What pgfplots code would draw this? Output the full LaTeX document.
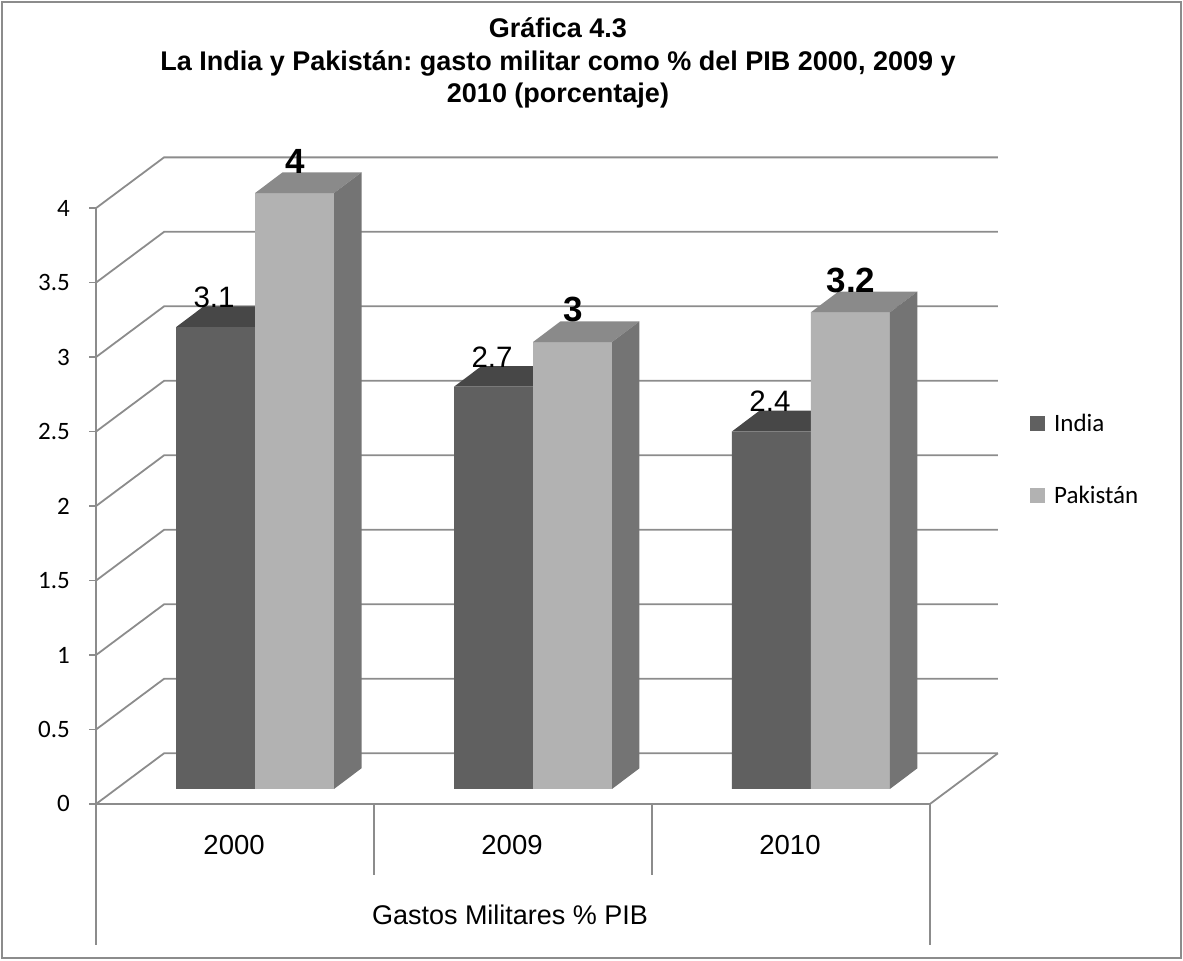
\documentclass[border=0pt]{standalone}
\usepackage{pgfplots}
\pgfplotsset{compat=1.18}
\usepackage{pgfplotstable}
\usepackage{fontspec}
\setmainfont{Liberation Sans}
\newfontfamily\carlito{Carlito}
\frenchspacing

\definecolor{indiaF}{RGB}{96,96,96}
\definecolor{indiaT}{RGB}{71,71,71}
\definecolor{pakF}{RGB}{178,178,178}
\definecolor{pakT}{RGB}{138,138,138}
\definecolor{pakS}{RGB}{116,116,116}
\definecolor{gridc}{RGB}{140,140,140}
\definecolor{framec}{RGB}{140,140,140}

\pgfplotstableread{
x india pak
255 3.1 4
533 2.7 3
811 2.4 3.2
}\data

\pgfplotsset{
  sqlegend/.style={legend image code/.code={\fill[##1,draw=none] (0pt,-7.5pt) rectangle (15pt,7.5pt); \path (22pt,0pt);}},
  gl/.style={gridc, line width=1.8pt, forget plot, mark=none},
}

\begin{document}
\begin{tikzpicture}
\begin{axis}[
  scale only axis, x=1pt, y=149pt,
  xmin=0, xmax=1183, ymin=-1.1477, ymax=5.2953,
  clip=false,
  axis line style={draw=none},
  major tick length=0pt,
  /pgf/number format/assume math mode=true,
  xtick={234,512,790}, xticklabels={2000,2009,2010},
  xticklabel style={anchor=center, yshift=115pt, font=\fontsize{27.5}{27.5}\selectfont},
  ytick={-0.1007,0.3993,0.8993,1.3993,1.8993,2.3993,2.8993,3.3993,3.8993},
  yticklabels={0,0.5,1,1.5,2,2.5,3,3.5,4},
  yticklabel style={anchor=east, inner sep=0pt, xshift=70pt, font=\carlito\fontsize{25}{25}\selectfont},
  xlabel={Gastos Militares \% PIB},
  xlabel style={at={(axis cs:510,-0.8456)}, anchor=center, font=\fontsize{27}{27}\selectfont},
  legend cell align=left,
  legend style={at={(axis cs:1030,2.211)}, anchor=west, draw=none, fill=none, inner sep=0pt,
     row sep=49pt, font=\carlito\fontsize{25}{25}\selectfont},
]
% side wall diagonals + back wall gridlines
\addplot[gl] coordinates {(96,-0.1007) (164,0.2396) (998,0.2396)};
\addplot[gl] coordinates {(96,0.3993) (164,0.7396) (998,0.7396)};
\addplot[gl] coordinates {(96,0.8993) (164,1.2396) (998,1.2396)};
\addplot[gl] coordinates {(96,1.3993) (164,1.7396) (998,1.7396)};
\addplot[gl] coordinates {(96,1.8993) (164,2.2396) (998,2.2396)};
\addplot[gl] coordinates {(96,2.3993) (164,2.7396) (998,2.7396)};
\addplot[gl] coordinates {(96,2.8993) (164,3.2396) (998,3.2396)};
\addplot[gl] coordinates {(96,3.3993) (164,3.7396) (998,3.7396)};
\addplot[gl] coordinates {(96,3.8993) (164,4.2396) (998,4.2396)};
% tick marks
\addplot[gl] coordinates {(89,-0.1007) (96,-0.1007)};
\addplot[gl] coordinates {(89,0.3993) (96,0.3993)};
\addplot[gl] coordinates {(89,0.8993) (96,0.8993)};
\addplot[gl] coordinates {(89,1.3993) (96,1.3993)};
\addplot[gl] coordinates {(89,1.8993) (96,1.8993)};
\addplot[gl] coordinates {(89,2.3993) (96,2.3993)};
\addplot[gl] coordinates {(89,2.8993) (96,2.8993)};
\addplot[gl] coordinates {(89,3.3993) (96,3.3993)};
\addplot[gl] coordinates {(89,3.8993) (96,3.8993)};
% axis lines, floor, category boxes
\addplot[gl] coordinates {(96,3.8993) (96,-1.047)};
\addplot[gl] coordinates {(96,-0.1007) (930,-0.1007) (998,0.2396)};
\addplot[gl] coordinates {(930,-0.1007) (930,-1.047)};
\addplot[gl] coordinates {(374,-0.1007) (374,-0.5772)};
\addplot[gl] coordinates {(652,-0.1007) (652,-0.5772)};

% India top faces
\addplot[fill=indiaT, draw=none, forget plot] coordinates {(176,3.1) (255,3.1) (282.5,3.239) (203.5,3.239)} --cycle;
\addplot[fill=indiaT, draw=none, forget plot] coordinates {(454,2.7) (533,2.7) (560.5,2.839) (481.5,2.839)} --cycle;
\addplot[fill=indiaT, draw=none, forget plot] coordinates {(732,2.4) (811,2.4) (838.5,2.539) (759.5,2.539)} --cycle;

% front faces
\addplot[ybar, bar width=79, bar shift=-39.5, fill=indiaF, draw=none, sqlegend,
  nodes near coords,
  nodes near coords style={anchor=south, inner sep=0pt, xshift=-41pt, yshift=19.5pt, text=black, font=\fontsize{29.5}{29.5}\selectfont}]
  table[x=x, y=india]{\data};
\addlegendentry{India}
\addplot[ybar, bar width=79, bar shift=39.5, fill=pakF, draw=none, sqlegend,
  nodes near coords,
  nodes near coords style={anchor=south, inner sep=0pt, xshift=40pt, yshift=19.5pt, text=black, font=\bfseries\fontsize{35}{35}\selectfont}]
  table[x=x, y=pak]{\data};
\addlegendentry{Pakistán}

% Pakistan top faces
\addplot[fill=pakT, draw=none, forget plot] coordinates {(255,4) (334,4) (361.5,4.139) (282.5,4.139)} --cycle;
\addplot[fill=pakT, draw=none, forget plot] coordinates {(533,3) (612,3) (639.5,3.139) (560.5,3.139)} --cycle;
\addplot[fill=pakT, draw=none, forget plot] coordinates {(811,3.2) (890,3.2) (917.5,3.339) (838.5,3.339)} --cycle;
% Pakistan side faces
\addplot[fill=pakS, draw=none, forget plot] coordinates {(334,0) (361.5,0.139) (361.5,4.139) (334,4)} --cycle;
\addplot[fill=pakS, draw=none, forget plot] coordinates {(612,0) (639.5,0.139) (639.5,3.139) (612,3)} --cycle;
\addplot[fill=pakS, draw=none, forget plot] coordinates {(890,0) (917.5,0.139) (917.5,3.339) (890,3.2)} --cycle;

% title and frame
\node[align=center, font=\bfseries\fontsize{27}{32.5}\selectfont] at (axis cs:558,4.872)
  {Gráfica 4.3\\La India y Pakistán: gasto militar como \% del PIB 2000, 2009 y\\2010 (porcentaje)};
\draw[framec, line width=2.5pt] (axis cs:2,5.2819) rectangle (axis cs:1181,-1.1342);
\end{axis}
\end{tikzpicture}
\end{document}
